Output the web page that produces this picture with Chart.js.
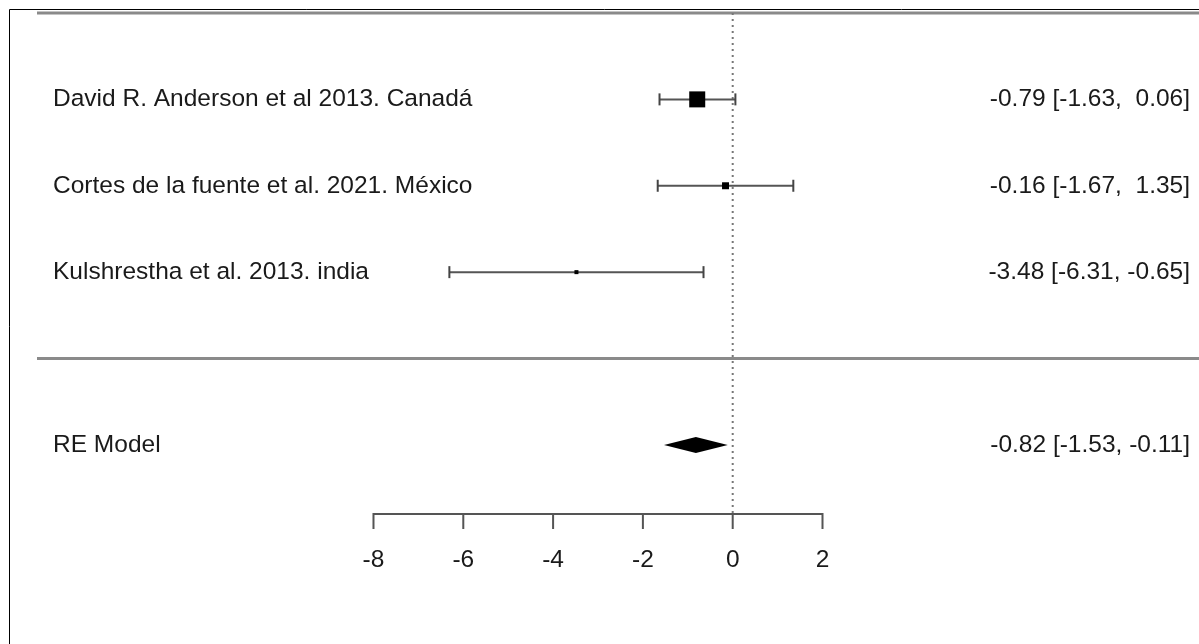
<!DOCTYPE html>
<html>
<head>
<meta charset="utf-8">
<script src="https://cdn.jsdelivr.net/npm/chart.js@4"></script>
<style>
  html, body { margin: 0; padding: 0; background: #fff; overflow: hidden; }
  #wrap { width: 1199px; height: 644px; position: relative; }
  #forest { display: block; }
</style>
</head>
<body>
<div id="wrap"><canvas id="forest"></canvas></div>
<script>
// studies, top to bottom
const studies = ['David R. Anderson et al 2013. Canadá', 'Cortes de la fuente et al. 2021. México', 'Kulshrestha et al. 2013. india'];
const estimates = [-0.79, -0.16, -3.48];
const ciLower = [-1.63, -1.67, -6.31];
const ciUpper = [0.06, 1.35, -0.65];
const weights = [71.3, 22.4, 6.3];   // % weight, drives square size
const rows = [3, 2, 1];

const modelLabel = 'RE Model';
const modelEst = -0.82;
const modelLower = -1.53;
const modelUpper = -0.11;
const modelRow = -1;

const xTicks = [-8, -6, -4, -2, 0, 2];

const FONT = '24.5px "Liberation Sans", Arial, sans-serif';
const fmt = v => v.toFixed(2).padStart(5, ' ');

const wMin = Math.min(...weights), wMax = Math.max(...weights);
const sqSide = w => 4 + (w - wMin) / (wMax - wMin) * 12;

const datasets = [];
// squares
datasets.push({
  type: 'scatter',
  data: estimates.map((e, i) => ({x: e, y: rows[i]})),
  pointStyle: 'rect',
  pointRadius: weights.map(w => sqSide(w) / Math.SQRT2),
  backgroundColor: '#000',
  borderWidth: 0,
  order: 0
});
// confidence intervals with whisker ends
estimates.forEach((e, i) => {
  datasets.push({
    type: 'scatter',
    showLine: true,
    data: [{x: ciLower[i], y: rows[i]}, {x: ciUpper[i], y: rows[i]}],
    borderColor: '#555',
    borderWidth: 2,
    pointStyle: 'line',
    rotation: 90,
    pointRadius: 6,
    pointBorderWidth: 2,
    pointBorderColor: '#444',
    order: 1
  });
});
// reference line at 0
datasets.push({
  type: 'scatter',
  showLine: true,
  data: [{x: 0, y: 4}, {x: 0, y: -1.8}],
  borderColor: '#777',
  borderWidth: 2,
  borderDash: [2, 4],
  pointRadius: 0,
  order: 2
});

const forestPlugin = {
  id: 'forestExtras',
  beforeDatasetsDraw(chart) {
    const {ctx, scales: {x, y}, chartArea} = chart;
    ctx.save();
    // frame
    ctx.strokeStyle = '#000';
    ctx.lineWidth = 1;
    ctx.beginPath();
    ctx.moveTo(9.5, 644); ctx.lineTo(9.5, 9.5); ctx.lineTo(1199, 9.5);
    ctx.stroke();
    // header line and separator
    ctx.strokeStyle = '#8a8a8a';
    ctx.lineWidth = 3;
    [4, 0].forEach(r => {
      const py = y.getPixelForValue(r);
      ctx.beginPath();
      ctx.moveTo(chartArea.left, py); ctx.lineTo(chartArea.right, py);
      ctx.stroke();
    });
    ctx.restore();
  },
  afterDatasetsDraw(chart) {
    const {ctx, scales: {x, y}, chartArea} = chart;
    ctx.save();
    // summary diamond
    const dy = y.getPixelForValue(modelRow);
    ctx.fillStyle = '#000';
    ctx.beginPath();
    ctx.moveTo(x.getPixelForValue(modelLower), dy);
    ctx.lineTo(x.getPixelForValue(modelEst), dy - 8);
    ctx.lineTo(x.getPixelForValue(modelUpper), dy);
    ctx.lineTo(x.getPixelForValue(modelEst), dy + 8);
    ctx.closePath();
    ctx.fill();

    // x axis
    const ay = chartArea.bottom;
    ctx.strokeStyle = '#555';
    ctx.lineWidth = 2;
    ctx.beginPath();
    ctx.moveTo(x.getPixelForValue(xTicks[0]), ay);
    ctx.lineTo(x.getPixelForValue(xTicks[xTicks.length - 1]), ay);
    xTicks.forEach(t => {
      const px = x.getPixelForValue(t);
      ctx.moveTo(px, ay - 1); ctx.lineTo(px, ay + 15);
    });
    ctx.stroke();

    ctx.font = FONT;
    ctx.fillStyle = '#1a1a1a';
    ctx.textBaseline = 'middle';
    ctx.textAlign = 'center';
    xTicks.forEach(t => ctx.fillText(String(t), x.getPixelForValue(t), ay + 46));

    // study labels and estimates
    ctx.textAlign = 'left';
    studies.forEach((s, i) => ctx.fillText(s, 53, y.getPixelForValue(rows[i])));
    ctx.fillText(modelLabel, 53, dy);
    ctx.textAlign = 'right';
    estimates.forEach((e, i) => {
      ctx.fillText(`${fmt(e)} [${fmt(ciLower[i])}, ${fmt(ciUpper[i])}]`, 1190, y.getPixelForValue(rows[i]));
    });
    ctx.fillText(`${fmt(modelEst)} [${fmt(modelLower)}, ${fmt(modelUpper)}]`, 1190, dy);
    ctx.restore();
  }
};

new Chart(document.getElementById('forest').getContext('2d'), {
  type: 'scatter',
  data: { datasets },
  options: {
    responsive: true,
    maintainAspectRatio: false,
    animation: false,
    layout: { autoPadding: false, padding: { left: 37, right: 0, top: 13, bottom: 130 } },
    plugins: { legend: { display: false }, tooltip: { enabled: false } },
    scales: {
      x: { type: 'linear', display: false, min: -15.494, max: 10.385 },
      y: { type: 'linear', display: false, min: -1.8, max: 4 }
    }
  },
  plugins: [forestPlugin]
});
</script>
</body>
</html>
